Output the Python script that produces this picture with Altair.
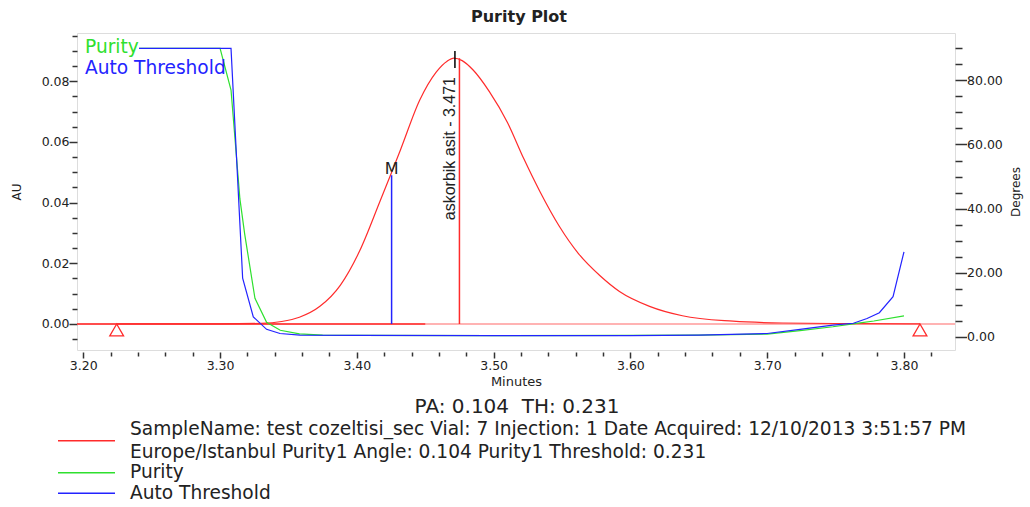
import altair as alt
import pandas as pd

# ---------------- data ----------------
# chromatogram (AU, left axis)
red_minutes = [3.2244, 3.300, 3.330, 3.345, 3.358, 3.373, 3.388, 3.402, 3.417, 3.425,
               3.432, 3.446, 3.458, 3.466, 3.471, 3.477, 3.485, 3.497, 3.510, 3.522,
               3.534, 3.548, 3.562, 3.578, 3.592, 3.614, 3.638, 3.675, 3.711, 3.760, 3.8117]
red_au = [0.0, 0.0, 0.0002, 0.0008, 0.0022, 0.0058, 0.0128, 0.0240, 0.0405, 0.0495,
          0.0575, 0.0738, 0.0830, 0.0866, 0.0876, 0.0868, 0.0837, 0.0765, 0.0665, 0.0545,
          0.0435, 0.0322, 0.0232, 0.0158, 0.0107, 0.0058, 0.0027, 0.0009, 0.0003, 0.0001, 0.0]

# purity angle (degrees, right axis)
purity_minutes = [3.2244, 3.300, 3.308, 3.3145, 3.318, 3.3255, 3.334, 3.344, 3.358, 3.375,
                  3.40, 3.50, 3.60, 3.65, 3.70, 3.724, 3.748, 3.768, 3.778, 3.80]
purity_deg = [90.0, 90.0, 77.0, 43.0, 32.0, 12.0, 4.5, 2.0, 0.9, 0.5,
              0.4, 0.35, 0.4, 0.5, 0.8, 1.9, 3.1, 4.3, 4.9, 6.5]

# auto threshold (degrees, right axis)
thresh_minutes = [3.2244, 3.308, 3.3165, 3.3243, 3.334, 3.3438, 3.3584, 3.40, 3.50, 3.60,
                  3.65, 3.70, 3.724, 3.748, 3.763, 3.773, 3.782, 3.792, 3.80]
thresh_deg = [90.0, 90.0, 18.3, 6.2, 2.3, 1.0, 0.5, 0.4, 0.35, 0.35,
              0.5, 1.0, 2.3, 3.6, 4.2, 5.7, 7.5, 12.5, 26.5]

# peak annotations
peak_bounds_minutes = [3.2244, 3.8117]
peak_bounds_au = [-0.002, -0.002]
peak_rt = [3.4717]
peak_rt_tick = [0.0844, 0.090]
peak_label = ["askorbik asit - 3.471"]
peak_label_au = [0.0804]
apex_minutes = [3.475]
apex_au = [0.0876]
m_minutes = [3.4254]
m_au = [0.049]
m_label = ["M"]
baseline_solid_end = 3.45

# axes
x_domain = [3.1954, 3.8373]
au_domain = [-0.0086, 0.0959]
deg_domain = [-4.15, 94.8]
x_ticks = [round(3.20 + 0.02 * i, 2) for i in range(32)]
au_ticks = [round(-0.005 + 0.005 * i, 3) for i in range(21)]
deg_ticks = [5 * i for i in range(19)]

# texts
chart_title = "Purity Plot"
pa_th_text = "PA: 0.104\u00a0 TH: 0.231"
top_legend = ["Purity", "Auto Threshold"]
bottom_legend = [
    "SampleName: test cozeltisi_sec Vial: 7 Injection: 1 Date Acquired: 12/10/2013 3:51:57 PM",
    "Europe/Istanbul Purity1 Angle: 0.104 Purity1 Threshold: 0.231",
    "Purity",
    "Auto Threshold",
]

# ---------------- styling ----------------
RED = "#ff2b2b"
PINK = "#ff9a9a"
GREEN = "#2ee02e"
BLUE = "#2323ff"
INK = "#222222"
FONT = "DejaVu Sans"
W, H = 878, 317

x_major = "abs(datum.value*10 - round(datum.value*10)) < 0.001"
au_major = "abs(datum.value*50 - round(datum.value*50)) < 0.001"
deg_major = "datum.value % 20 == 0"

xaxis = alt.Axis(
    values=x_ticks, title="Minutes", grid=False, domain=False, offset=2,
    tickColor="#333", tickWidth=1.5,
    tickSize={"condition": {"test": x_major, "value": 6}, "value": 4},
    labelExpr=f"{x_major} ? format(datum.value, '.2f') : ''",
    labelFont=FONT, labelFontSize=12.5, labelColor=INK, labelPadding=1,
    labelFlush=False, labelOverlap=False,
    titleFont=FONT, titleFontSize=13, titleFontWeight="normal", titleColor=INK, titlePadding=4,
)
yl_axis = alt.Axis(
    orient="left", values=au_ticks, title="AU", grid=False, domain=False,
    tickColor="#333", tickWidth=1.5,
    tickSize={"condition": {"test": au_major, "value": 8}, "value": 5},
    labelExpr=f"{au_major} ? format(datum.value, '.2f') : ''",
    labelFont=FONT, labelFontSize=12.5, labelColor=INK, labelPadding=0, labelOverlap=False,
    titleFont=FONT, titleFontSize=12, titleFontWeight="normal", titleColor=INK, titlePadding=18,
)
yr_axis = alt.Axis(
    orient="right", values=deg_ticks, title="Degrees", grid=False, domain=False,
    tickColor="#333", tickWidth=1.5,
    tickSize={"condition": {"test": deg_major, "value": 11.5}, "value": 7},
    labelExpr=f"{deg_major} ? format(datum.value, '.2f') : ''",
    labelFont=FONT, labelFontSize=12.5, labelColor=INK, labelPadding=0, labelOverlap=False,
    titleFont=FONT, titleFontSize=12, titleFontWeight="normal", titleColor=INK,
    titleAngle=270, titleBaseline="top", titlePadding=8,
)

xscale = alt.Scale(domain=x_domain, nice=False, zero=False)
au_scale = alt.Scale(domain=au_domain, nice=False, zero=False)
deg_scale = alt.Scale(domain=deg_domain, nice=False, zero=False)


def X(f):
    return alt.X(f, type="quantitative", scale=xscale, axis=xaxis)


def YL(f):
    return alt.Y(f, type="quantitative", scale=au_scale, axis=yl_axis)


def YR(f):
    return alt.Y(f, type="quantitative", scale=deg_scale, axis=yr_axis)


# ---------------- left (AU) layers ----------------
df_red = pd.DataFrame({"minutes": red_minutes, "au": red_au})
red_line = alt.Chart(df_red).mark_line(color=RED, strokeWidth=1.2, interpolate="monotone").encode(
    x=X("minutes"), y=YL("au"))

base_all = alt.Chart(pd.DataFrame({"au": [0.0]})).mark_rule(color=PINK, strokeWidth=1.5).encode(y=YL("au"))
base_solid = alt.Chart(pd.DataFrame({"start": [x_domain[0]], "end": [baseline_solid_end], "au": [0.0]})).mark_rule(
    color=RED, strokeWidth=1.5).encode(x=X("start"), x2="end", y=YL("au"))

df_m = pd.DataFrame({"minutes": m_minutes, "base": [0.0], "top": m_au, "label": m_label})
m_rule = alt.Chart(df_m).mark_rule(color=BLUE, strokeWidth=1.5).encode(x=X("minutes"), y=YL("base"), y2="top")
m_text = alt.Chart(df_m).mark_text(font=FONT, fontSize=16, color=INK, baseline="alphabetic", dy=-1).encode(
    x=X("minutes"), y=YL("top"), text="label")

df_apex = pd.DataFrame({"minutes": apex_minutes, "base": [0.0], "top": apex_au})
apex_rule = alt.Chart(df_apex).mark_rule(color=RED, strokeWidth=1.5).encode(x=X("minutes"), y=YL("base"), y2="top")

df_rt = pd.DataFrame({"minutes": peak_rt, "low": [peak_rt_tick[0]], "high": [peak_rt_tick[1]],
                      "label": peak_label, "label_au": peak_label_au})
rt_tick = alt.Chart(df_rt).mark_rule(color="black", strokeWidth=1.5).encode(x=X("minutes"), y=YL("low"), y2="high")
rt_text = alt.Chart(df_rt).mark_text(font="Liberation Sans", fontSize=16, color=INK, angle=270,
                                     align="right", baseline="alphabetic", dx=3).encode(
    x=X("minutes"), y=YL("label_au"), text="label")

df_bounds = pd.DataFrame({"minutes": peak_bounds_minutes, "au": peak_bounds_au})
bounds = alt.Chart(df_bounds).mark_point(shape="triangle-up", filled=False, color=RED, size=190,
                                         strokeWidth=1.3, opacity=1).encode(x=X("minutes"), y=YL("au"))

left = alt.layer(base_all, base_solid, red_line, m_rule, apex_rule, rt_tick, bounds, m_text, rt_text)

# ---------------- right (degrees) layers ----------------
df_pur = pd.DataFrame({"minutes": purity_minutes, "deg": purity_deg})
df_thr = pd.DataFrame({"minutes": thresh_minutes, "deg": thresh_deg})
pur_line = alt.Chart(df_pur).mark_line(color=GREEN, strokeWidth=1.2).encode(x=X("minutes"), y=YR("deg"))
thr_line = alt.Chart(df_thr).mark_line(color=BLUE, strokeWidth=1.2).encode(x=X("minutes"), y=YR("deg"))
right = alt.layer(pur_line, thr_line)

# ---------------- title, legends in pixel layout ----------------
LEG = 18.6
one = alt.Data(values=[{}])
overlay_layers = [
    alt.Chart(one).mark_text(text=chart_title, font=FONT, fontSize=16, fontWeight="bold", color=INK,
                             align="center", baseline="alphabetic").encode(
        x=alt.value(W / 2 + 3), y=alt.value(-11.5)),
    alt.Chart(one).mark_rect(color="white").encode(
        x=alt.value(5), x2=alt.value(62), y=alt.value(5), y2=alt.value(23)),
    alt.Chart(one).mark_text(text=top_legend[0], font=FONT, fontSize=LEG, color=GREEN,
                             align="left", baseline="middle").encode(x=alt.value(8), y=alt.value(14.3)),
    alt.Chart(one).mark_text(text=top_legend[1], font=FONT, fontSize=LEG, color=BLUE,
                             align="left", baseline="middle").encode(x=alt.value(8), y=alt.value(34.8)),
    alt.Chart(one).mark_text(text=pa_th_text, font=FONT, fontSize=20, color=INK,
                             align="center", baseline="middle").encode(x=alt.value(440), y=alt.value(373.5)),
]
legend_text_y = [396, 418.5, 439.3, 460.2]
for label, ty in zip(bottom_legend, legend_text_y):
    overlay_layers.append(
        alt.Chart(one).mark_text(text=label, font=FONT, fontSize=LEG, color=INK,
                                 align="left", baseline="middle").encode(x=alt.value(53), y=alt.value(ty)))
swatch_colors = [RED, GREEN, BLUE]
swatch_y = [407.7, 439.7, 460.3]
for c, sy in zip(swatch_colors, swatch_y):
    overlay_layers.append(
        alt.Chart(one).mark_rule(color=c, strokeWidth=1.5).encode(
            x=alt.value(-19), x2=alt.value(38), y=alt.value(sy)))
overlay = alt.layer(*overlay_layers)

chart = alt.layer(left, right, overlay).resolve_scale(y="independent").properties(
    width=W, height=H,
    autosize=alt.AutoSizeParams(type="none"),
    padding={"left": 77, "top": 33, "right": 1030 - 77 - W, "bottom": 507 - 33 - H},
).configure_view(stroke="#333", strokeWidth=1.5).configure(background="white")

chart.save("out.html", embed_options={"renderer": "svg", "actions": False})
